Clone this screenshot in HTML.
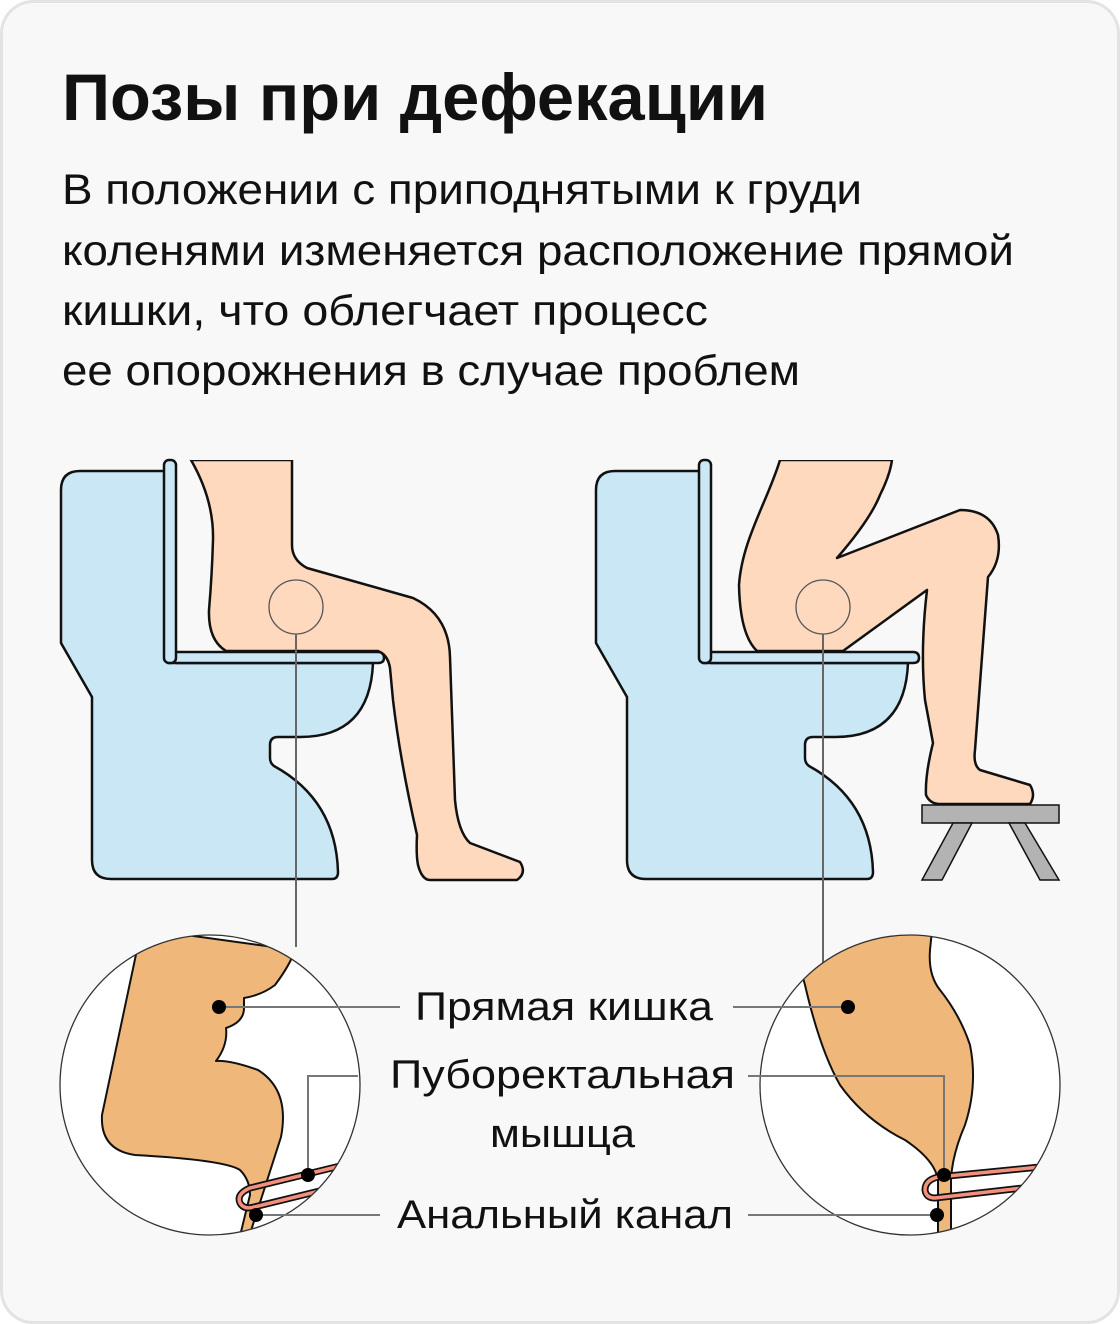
<!DOCTYPE html>
<html><head><meta charset="utf-8"><style>
html,body{margin:0;padding:0;background:#fff;}
svg{display:block}
text{font-family:"Liberation Sans",sans-serif;fill:#111}
</style></head><body>
<svg width="1120" height="1324" viewBox="0 0 1120 1324" xmlns="http://www.w3.org/2000/svg">
<rect x="1.5" y="1.5" width="1117" height="1321" rx="32" fill="#f8f8f8" stroke="#e3e3e3" stroke-width="3"/>
<text x="62" y="120" font-size="66" font-weight="bold" textLength="706" lengthAdjust="spacingAndGlyphs">Позы при дефекации</text>
<g font-size="43">
<text x="62" y="204" textLength="800" lengthAdjust="spacingAndGlyphs">В положении с приподнятыми к груди</text>
<text x="62" y="265" textLength="952" lengthAdjust="spacingAndGlyphs">коленями изменяется расположение прямой</text>
<text x="62" y="325" textLength="646" lengthAdjust="spacingAndGlyphs">кишки, что облегчает процесс</text>
<text x="62" y="385" textLength="738" lengthAdjust="spacingAndGlyphs">ее опорожнения в случае проблем</text>
</g>

<g id="toilet" stroke="#111" stroke-width="2.5" stroke-linejoin="round" fill="#cae7f5">
<path d="M166,471 H80 Q61,471 61,490 V643 L92,697 V860 Q92,879 111,879 H332 Q338,879 338,872 Q336,800 274,766 Q270,763 270,758 V745 Q270,737 278,737 H300 Q370,737 373,663 H176 Z"/>
<path d="M168,652 H378 Q384,652 384,658 Q384,663 378,663 H168 Z"/>
<rect x="164" y="460" width="12" height="203" rx="5"/>
</g>
<path d="M191,460 Q214,500 213,540 Q212,575 209,610 Q208,640 226,651 H378 Q388,655 390,668 L393,700 Q400,760 417,835 Q416,855 418,865 Q422,880 430,880 H517 Q527,873 520,862 L470,843 Q458,832 455,800 L450,657 Q449,615 413,598 L307,568 Q292,560 292,545 V460 Z" fill="#fed9bd" stroke="#111" stroke-width="2.5" stroke-linejoin="round"/>
<rect x="190" y="455" width="104" height="5" fill="#f8f8f8"/>
<circle cx="296" cy="607" r="27" fill="none" stroke="#555" stroke-width="1.3"/>
<line x1="296" y1="634" x2="296" y2="947" stroke="#666" stroke-width="2"/>

<use href="#toilet" transform="translate(535,0)"/>
<path d="M780,460 C768,500 742,540 739,585 Q740,635 757,651 H843 L927,590 Q920,650 925,700 L933,743 Q925,775 926,795 Q930,804 940,804 H1030 Q1036,795 1030,785 L980,770 Q973,765 975,750 L988,577 Q1002,560 998,535 Q990,510 960,510 L837,558 Q870,520 880,495 Q890,475 892,460 Z" fill="#fed9bd" stroke="#111" stroke-width="2.5" stroke-linejoin="round"/>
<rect x="775" y="455" width="120" height="5" fill="#f8f8f8"/>
<circle cx="823" cy="607" r="27" fill="none" stroke="#555" stroke-width="1.3"/>
<line x1="823" y1="634" x2="823" y2="965" stroke="#666" stroke-width="2"/>
<g fill="#b3b3b3" stroke="#111" stroke-width="1.5">
<rect x="922" y="805" width="137" height="18"/>
<path d="M953,823 H972 L942,880 H922 Z"/>
<path d="M1009,823 H1025 L1059,880 H1040 Z"/>
</g>

<defs>
<clipPath id="cl"><circle cx="210" cy="1085" r="150"/></clipPath>
<clipPath id="cr"><circle cx="910" cy="1085" r="150"/></clipPath>
</defs>
<circle cx="210" cy="1085" r="150" fill="#fff"/>
<g clip-path="url(#cl)" stroke="#111" stroke-width="2" stroke-linejoin="round">
<path d="M138,945 L102,1115 Q100,1150 135,1155 Q225,1160 240,1170 Q250,1180 250,1195 L239,1240 L248,1240 L281,1137 Q290,1090 258,1070 Q230,1060 216,1061 Q228,1045 226,1028 Q244,1022 244,1008 V998 Q262,995 275,985 Q290,965 295,950 L150,930 Z" fill="#efb87a"/>
<path d="M340,1166 L250,1188 Q236,1194 240,1203 Q244,1210 254,1207 L340,1186" fill="none" stroke="#111" stroke-width="7"/>
<path d="M340,1166 L250,1188 Q236,1194 240,1203 Q244,1210 254,1207 L340,1186" fill="none" stroke="#f2907c" stroke-width="3.5"/>
</g>
<circle cx="210" cy="1085" r="150" fill="none" stroke="#333" stroke-width="1.3"/>

<circle cx="910" cy="1085" r="150" fill="#fff"/>
<g clip-path="url(#cr)" stroke="#111" stroke-width="2" stroke-linejoin="round">
<path d="M790,930 L805,985 Q820,1050 840,1085 Q865,1120 905,1140 Q935,1160 938,1180 V1240 L951,1240 V1180 Q952,1155 965,1125 Q978,1085 970,1045 Q960,1015 940,990 Q928,975 930,950 L932,930 Z" fill="#efb87a"/>
<path d="M1040,1167 L938,1177 Q925,1180 925,1190 Q926,1198 935,1198 L1040,1186" fill="none" stroke="#111" stroke-width="7"/>
<path d="M1040,1167 L938,1177 Q925,1180 925,1190 Q926,1198 935,1198 L1040,1186" fill="none" stroke="#f2907c" stroke-width="3.5"/>
</g>
<circle cx="910" cy="1085" r="150" fill="none" stroke="#333" stroke-width="1.3"/>

<g stroke="#777" stroke-width="2" fill="none">
<path d="M219,1007 H400"/>
<path d="M308,1175 V1076 H358"/>
<path d="M256,1215 H380"/>
<path d="M733,1007 H848"/>
<path d="M748,1076 H944 V1175"/>
<path d="M748,1215 H937"/>
</g>
<g fill="#000">
<circle cx="219" cy="1007" r="7"/><circle cx="308" cy="1175" r="7"/><circle cx="256" cy="1215" r="7"/>
<circle cx="848" cy="1007" r="7"/><circle cx="944" cy="1175" r="7"/><circle cx="937" cy="1215" r="7"/>
</g>
<g font-size="40">
<text x="415" y="1020" textLength="298" lengthAdjust="spacingAndGlyphs">Прямая кишка</text>
<text x="390" y="1088" textLength="345" lengthAdjust="spacingAndGlyphs">Пуборектальная</text>
<text x="490" y="1147" textLength="145" lengthAdjust="spacingAndGlyphs">мышца</text>
<text x="397" y="1228" textLength="336" lengthAdjust="spacingAndGlyphs">Анальный канал</text>
</g>
</svg>
</body></html>
